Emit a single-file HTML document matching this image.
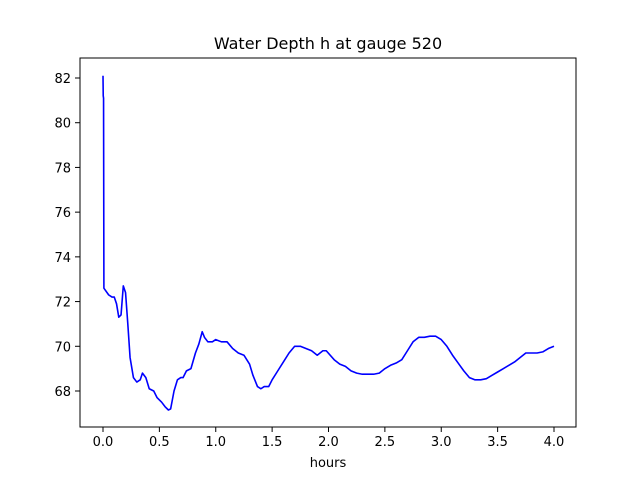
<!DOCTYPE html>
<html><head><meta charset="utf-8">
<style>
html,body{margin:0;padding:0;background:#fff;}
svg{display:block;font-family:"DejaVu Sans","Liberation Sans",sans-serif;}
</style></head>
<body>
<svg id="chart" width="640" height="480" viewBox="0 0 640 480">
<rect x="0" y="0" width="640" height="480" fill="#fff"/>
<text x="328" y="49" text-anchor="middle" font-size="16" fill="#000">Water Depth h at gauge 520</text>
<g id="plot"></g>
<rect x="80" y="58" width="496" height="369" fill="none" stroke="#000" stroke-width="1"/>
<text x="328" y="467" text-anchor="middle" font-size="13" fill="#000">hours</text>
</svg>
<script>
const times = [0,0.002,0.005,0.008,0.05,0.08,0.1,0.12,0.14,0.16,0.18,0.2,0.22,0.24,0.27,0.3,0.33,0.35,0.38,0.41,0.45,0.48,0.52,0.55,0.58,0.6,0.63,0.66,0.69,0.71,0.74,0.78,0.82,0.85,0.88,0.9,0.93,0.97,1.0,1.05,1.1,1.15,1.2,1.25,1.3,1.33,1.37,1.4,1.43,1.47,1.5,1.55,1.6,1.65,1.7,1.75,1.8,1.85,1.9,1.95,1.98,2.05,2.1,2.15,2.2,2.25,2.3,2.4,2.45,2.5,2.55,2.6,2.65,2.7,2.75,2.8,2.85,2.9,2.95,3.0,3.05,3.1,3.15,3.2,3.25,3.3,3.35,3.4,3.45,3.5,3.55,3.6,3.65,3.7,3.75,3.8,3.85,3.9,3.95,4.0];
const depths = [82.1,81.2,81.1,72.6,72.3,72.2,72.2,71.9,71.3,71.4,72.7,72.4,71.0,69.5,68.6,68.4,68.5,68.8,68.6,68.1,68.0,67.7,67.5,67.3,67.15,67.2,68.0,68.5,68.6,68.6,68.9,69.0,69.7,70.1,70.65,70.4,70.2,70.2,70.3,70.2,70.2,69.9,69.7,69.6,69.2,68.7,68.2,68.1,68.2,68.2,68.5,68.9,69.3,69.7,70.0,70.0,69.9,69.8,69.6,69.8,69.8,69.4,69.2,69.1,68.9,68.8,68.75,68.75,68.8,69.0,69.15,69.25,69.4,69.8,70.2,70.4,70.4,70.45,70.45,70.3,70.0,69.6,69.25,68.9,68.6,68.5,68.5,68.55,68.7,68.85,69.0,69.15,69.3,69.5,69.7,69.7,69.7,69.75,69.9,70.0];
const xTicks = [0,0.5,1,1.5,2,2.5,3,3.5,4];
const xTickLabels = ["0.0","0.5","1.0","1.5","2.0","2.5","3.0","3.5","4.0"];
const yTicks = [68,70,72,74,76,78,80,82];
const yTickLabels = ["68","70","72","74","76","78","80","82"];

function xScale(t){return 103 + t*(554-103)/4;}
function yScale(v){return 391 - (v-68)*(391-78)/14;}

const NS="http://www.w3.org/2000/svg";
const plot=document.getElementById('plot');
function mk(tag,attrs){const e=document.createElementNS(NS,tag);for(const k in attrs)e.setAttribute(k,attrs[k]);return e;}

xTicks.forEach((t,i)=>{
  const x=xScale(t);
  const l=mk('line',{x1:x,y1:427,x2:x,y2:432,stroke:'#000','stroke-width':1});
  
  
  plot.appendChild(l);
  const tx=mk('text',{x:x,y:446,'text-anchor':'middle','font-size':13,fill:'#000'});
  
  
  tx.textContent=xTickLabels[i];
  plot.appendChild(tx);
});
yTicks.forEach((v,i)=>{
  const y=yScale(v);
  const l=mk('line',{x1:75,y1:y,x2:80,y2:y,stroke:'#000','stroke-width':1});
  
  
  plot.appendChild(l);
  const tx=mk('text',{x:71,y:y+5,'text-anchor':'end','font-size':13,fill:'#000'});
  
  
  tx.textContent=yTickLabels[i];
  plot.appendChild(tx);
});
const pts=times.map((t,i)=>xScale(t).toFixed(2)+','+yScale(depths[i]).toFixed(2)).join(' ');
const line=mk('polyline',{points:pts,fill:'none',stroke:'#0000ff','stroke-width':1.6,'stroke-linejoin':'round'});


plot.appendChild(line);
</script>
</body></html>
